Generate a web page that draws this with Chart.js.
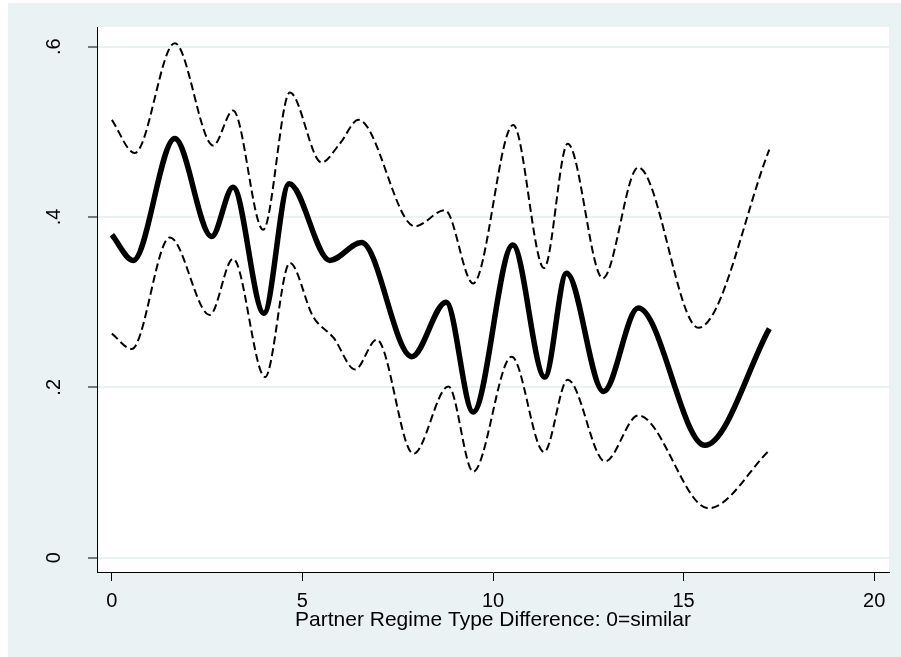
<!DOCTYPE html>
<html>
<head>
<meta charset="utf-8">
<script src="https://cdn.jsdelivr.net/npm/chart.js@4/dist/chart.umd.min.js"></script>
<style>
  body { margin: 0; background: #fff; }
  #wrap { position: absolute; left: 8px; top: 3px; width: 893px; height: 654px; background: #eaf2f3; }
</style>
</head>
<body>
<div id="wrap"><canvas id="chart" width="893" height="654"></canvas></div>
<script>
// tick values and labels
const xTicks = [0, 5, 10, 15, 20];
const yTicks = [0, 0.2, 0.4, 0.6];
const yTickLabels = ['0', '.2', '.4', '.6'];

// smoothed estimate (solid)
const fitX = [0, 0.56, 1.65, 2.62, 3.18, 3.99, 4.65, 5.72, 6.55, 7.87, 8.77, 9.48, 10.52, 11.36, 11.93, 12.9, 13.81, 15.56, 17.25];
const fitY = [0.379, 0.349, 0.492, 0.377, 0.435, 0.287, 0.439, 0.349, 0.370, 0.236, 0.300, 0.171, 0.367, 0.212, 0.334, 0.195, 0.293, 0.132, 0.269];

// upper band (dashed)
const upX = [0, 0.60, 1.65, 2.66, 3.18, 3.97, 4.67, 5.50, 5.98, 6.47, 7.95, 8.74, 9.48, 10.53, 11.34, 11.96, 12.88, 13.81, 15.39, 17.25];
const upY = [0.514, 0.475, 0.604, 0.484, 0.525, 0.385, 0.546, 0.464, 0.486, 0.514, 0.389, 0.408, 0.322, 0.508, 0.340, 0.486, 0.328, 0.458, 0.270, 0.479];

// lower band (dashed)
const loX = [0, 0.52, 1.52, 2.57, 3.18, 4.02, 4.67, 5.28, 5.82, 6.38, 6.95, 7.91, 8.83, 9.48, 10.49, 11.34, 11.96, 12.94, 13.81, 15.65, 17.25];
const loY = [0.263, 0.245, 0.376, 0.285, 0.351, 0.212, 0.346, 0.283, 0.258, 0.221, 0.256, 0.122, 0.201, 0.101, 0.236, 0.124, 0.209, 0.113, 0.167, 0.058, 0.126];

const pts = (xs, ys) => xs.map((x, i) => ({ x: x, y: ys[i] }));

Chart.defaults.font.family = "'Liberation Sans', Arial, sans-serif";
Chart.defaults.font.size = 20;
Chart.defaults.color = '#000';

// white plot region on the bluish page
const plotBg = {
  id: 'plotBg',
  beforeDraw(chart) {
    const a = chart.chartArea, ctx = chart.ctx;
    ctx.save();
    ctx.fillStyle = '#fff';
    ctx.fillRect(a.left, a.top, a.right - a.left, a.bottom - a.top);
    ctx.restore();
  }
};

const dashed = { borderColor: '#000', borderWidth: 2, borderDash: [8, 4], pointRadius: 0, cubicInterpolationMode: 'monotone', fill: false };

new Chart(document.getElementById('chart'), {
  type: 'line',
  data: {
    datasets: [
      Object.assign({ label: 'upper', data: pts(upX, upY) }, dashed),
      Object.assign({ label: 'lower', data: pts(loX, loY) }, dashed),
      { label: 'fit', data: pts(fitX, fitY), borderColor: '#000', borderWidth: 5.5, pointRadius: 0, cubicInterpolationMode: 'monotone', fill: false }
    ]
  },
  options: {
    responsive: false,
    animation: false,
    layout: { padding: { left: 0, top: 24, right: 12, bottom: 0 } },
    plugins: { legend: { display: false }, tooltip: { enabled: false } },
    scales: {
      x: {
        type: 'linear',
        min: -0.39,
        max: 20.39,
        afterBuildTicks: s => { s.ticks = xTicks.map(v => ({ value: v })); },
        afterFit: s => { s.height = 85; s.paddingLeft = 0; s.paddingRight = 0; },
        grid: { drawOnChartArea: false, tickLength: 9, tickColor: '#000', tickWidth: 1 },
        border: { color: '#000', width: 1 },
        ticks: { padding: 8, maxRotation: 0, callback: v => String(v) },
        title: {
          display: true, text: 'Partner Regime Type Difference: 0=similar',
          font: { size: 21 }, padding: { top: 0, bottom: 24 }
        }
      },
      y: {
        min: -0.0168,
        max: 0.623,
        afterBuildTicks: s => { s.ticks = yTicks.map(v => ({ value: v })); },
        afterFit: s => { s.width = 89; s.paddingTop = 0; s.paddingBottom = 0; },
        grid: { color: '#eaf2f3', lineWidth: 2, tickLength: 9, tickColor: '#000', tickWidth: 1 },
        border: { color: '#000', width: 1 },
        ticks: {
          padding: 25, minRotation: 90, maxRotation: 90, crossAlign: 'center',
          callback: v => yTickLabels[yTicks.indexOf(v)]
        }
      }
    }
  },
  plugins: [plotBg]
});
</script>
</body>
</html>
